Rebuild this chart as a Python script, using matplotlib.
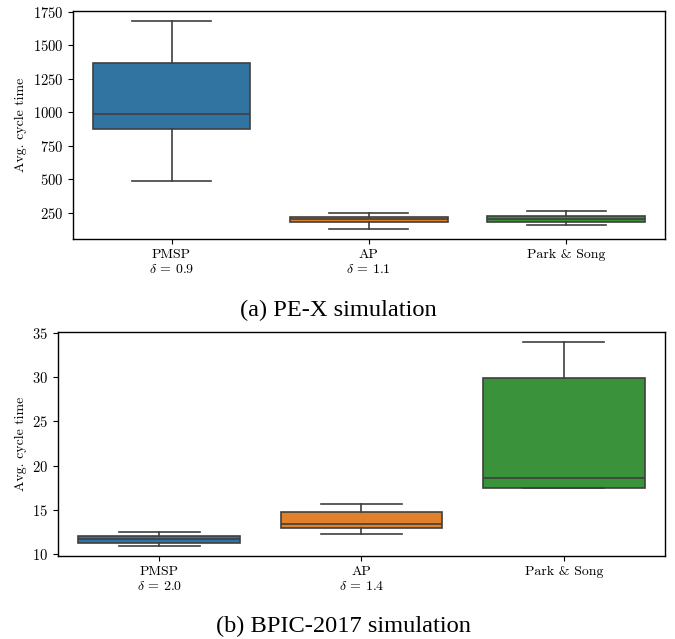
import matplotlib
matplotlib.use("Agg")
import matplotlib.pyplot as plt

plt.rcParams['font.family'] = ['cmr10', 'DejaVu Serif']
plt.rcParams['mathtext.fontset'] = 'cm'
plt.rcParams['axes.formatter.use_mathtext'] = True
plt.rcParams['axes.unicode_minus'] = False

categories_a = ["PMSP\n$\\delta$ = 0.9", "AP\n$\\delta$ = 1.1", "Park & Song"]
whislo_a = [489, 132, 160]
q1_a = [875, 181, 183]
med_a = [989, 201, 203]
q3_a = [1372, 218, 228]
whishi_a = [1681, 250, 260]

categories_b = ["PMSP\n$\\delta$ = 2.0", "AP\n$\\delta$ = 1.4", "Park & Song"]
whislo_b = [10.94, 12.22, 17.42]
q1_b = [11.24, 12.97, 17.53]
med_b = [11.73, 13.39, 18.63]
q3_b = [12.07, 14.78, 29.94]
whishi_b = [12.52, 15.66, 33.94]

yticks_a = [250, 500, 750, 1000, 1250, 1500, 1750]
yticks_b = [10, 15, 20, 25, 30, 35]

colors = ["#3274a1", "#e1812c", "#3a923a"]
edge = "#3f3f3f"
FS = 10

fig = plt.figure(figsize=(6.75, 6.39), dpi=100)
ax1 = fig.add_axes([0.108, 0.626, 0.877, 0.357])
ax2 = fig.add_axes([0.086, 0.130, 0.899, 0.350])


def draw(ax, cats, wl, q1, md, q3, wh, yticks):
    stats = []
    for i in range(len(cats)):
        stats.append(dict(med=md[i], q1=q1[i], q3=q3[i], whislo=wl[i],
                          whishi=wh[i], fliers=[]))
    bp = ax.bxp(stats, positions=range(len(cats)), widths=0.8,
                patch_artist=True, showfliers=False,
                boxprops=dict(edgecolor=edge, linewidth=1.2),
                medianprops=dict(color=edge, linewidth=1.2),
                whiskerprops=dict(color=edge, linewidth=1.2),
                capprops=dict(color=edge, linewidth=1.2),
                capwidths=0.4)
    for patch, c in zip(bp['boxes'], colors):
        patch.set_facecolor(c)
    ax.set_xlim(-0.5, len(cats) - 0.5)
    ax.set_xticks(range(len(cats)))
    ax.set_xticklabels(cats, fontsize=FS)
    ax.set_yticks(yticks)
    ax.tick_params(axis='y', labelsize=10.5)
    lo = min(wl)
    hi = max(wh)
    m = (hi - lo) * 0.05
    ax.set_ylim(lo - m, hi + m)
    ax.set_ylabel("Avg. cycle time", fontsize=FS)
    for s in ax.spines.values():
        s.set_linewidth(1.0)


draw(ax1, categories_a, whislo_a, q1_a, med_a, q3_a, whishi_a, yticks_a)
draw(ax2, categories_b, whislo_b, q1_b, med_b, q3_b, whishi_b, yticks_b)

fig.text(338.5 / 675, 1 - 310 / 639, "(a) PE-X simulation", ha='center', va='center',
         family='Liberation Serif', fontsize=17.6)
fig.text(343.5 / 675, 1 - 626 / 639, "(b) BPIC-2017 simulation", ha='center', va='center',
         family='Liberation Serif', fontsize=17.6)

fig.savefig("out.png", dpi=100)
